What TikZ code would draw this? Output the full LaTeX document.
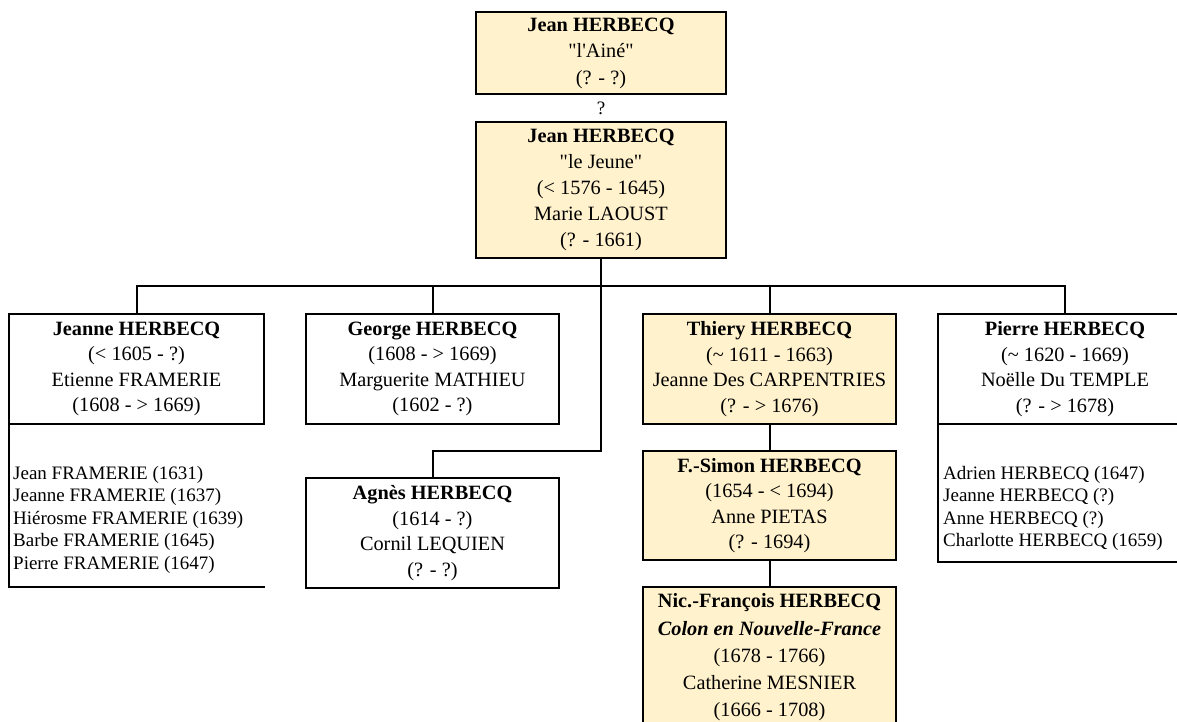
\documentclass[tikz,border=0pt]{standalone}
\usepackage{fontspec}
\setmainfont{Liberation Serif}
\definecolor{boxfill}{HTML}{FFF2CC}
\begin{document}
\begin{tikzpicture}[x=1pt,y=-1pt,
  box/.style={draw=black, line width=2pt, inner sep=0pt, outer sep=0pt, align=center,
    font=\fontsize{20.3}{25.5}\selectfont},
  anc/.style={box, fill=boxfill},
  wire/.style={line width=2pt, draw=black},
  listtext/.style={inner sep=0pt, align=left, anchor=north west,
    font=\fontsize{19}{22.5}\selectfont}]
\useasboundingbox (0,0) rectangle (1177,722);
\begin{scope}
\clip (0,0) rectangle (1177,722);
% ancestors
\node[anc, minimum width=250pt, minimum height=82pt, font=\fontsize{20.3}{26.5}\selectfont] (top) at (601,53)
  {\textbf{Jean HERBECQ}\\\textquotedbl l\textquotesingle Ainé\textquotedbl\\(? - ?)};
\node[inner sep=0pt, font=\fontsize{19}{22}\selectfont] (q) at (601,108) {?};
\node[anc, minimum width=250pt, minimum height=136pt, font=\fontsize{20.3}{26}\selectfont] (b2) at (601,190)
  {\textbf{Jean HERBECQ}\\\textquotedbl le Jeune\textquotedbl\\(< 1576 - 1645)\\Marie LAOUST\\(? - 1661)};
% children
\node[box, minimum width=255pt, minimum height=110pt] (jeanne) at (136.5,369)
  {\textbf{Jeanne HERBECQ}\\(< 1605 - ?)\\Etienne FRAMERIE\\(1608 - > 1669)};
\node[box, minimum width=253pt, minimum height=110pt] (george) at (432.5,369)
  {\textbf{George HERBECQ}\\(1608 - > 1669)\\Marguerite MATHIEU\\(1602 - ?)};
\node[anc, minimum width=253pt, minimum height=110pt] (thiery) at (769.5,369)
  {\textbf{Thiery HERBECQ}\\(\textasciitilde{} 1611 - 1663)\\Jeanne Des CARPENTRIES\\(? - > 1676)};
\node[box, minimum width=254pt, minimum height=110pt] (pierre) at (1065,369)
  {\textbf{Pierre HERBECQ}\\(\textasciitilde{} 1620 - 1669)\\Noëlle Du TEMPLE\\(? - > 1678)};
\node[box, minimum width=253pt, minimum height=110pt] (agnes) at (432.5,533)
  {\textbf{Agnès HERBECQ}\\(1614 - ?)\\Cornil LEQUIEN\\(? - ?)};
\node[anc, minimum width=253pt, minimum height=109pt] (simon) at (769.5,505.5)
  {\textbf{F.-Simon HERBECQ}\\(1654 - < 1694)\\Anne PIETAS\\(? - 1694)};
\node[anc, minimum width=253pt, minimum height=141pt, font=\fontsize{20.3}{27.3}\selectfont] (nic) at (769.5,657.5)
  {\textbf{Nic.-François HERBECQ}\\\textbf{\textit{Colon en Nouvelle-France}}\\(1678 - 1766)\\Catherine MESNIER\\(1666 - 1708)};
% lists of children
\node[listtext] (jlist) at (13,466)
  {Jean FRAMERIE (1631)\\Jeanne FRAMERIE (1637)\\Hiérosme FRAMERIE (1639)\\Barbe FRAMERIE (1645)\\Pierre FRAMERIE (1647)};
\node[listtext] (plist) at (943,466)
  {Adrien HERBECQ (1647)\\Jeanne HERBECQ (?)\\Anne HERBECQ (?)\\Charlotte HERBECQ (1659)};
\coordinate (jlistend) at (265,587);
\coordinate (plistend) at (1180,562);
\draw[wire] (jeanne.south west) |- (jlistend);
\draw[wire] (pierre.south west) |- (plistend);
% connectors
\coordinate (hub) at (601,286);
\coordinate (agbend) at (601,451);
\draw[wire] (b2.south) -- (hub);
\draw[wire] (hub) -| (jeanne.north);
\draw[wire] (hub) -| (george.north);
\draw[wire] (hub) -| (thiery.north);
\draw[wire] (hub) -| (pierre.north);
\draw[wire] (hub) -- (agbend) -| (agnes.north);
\draw[wire] (thiery.south) -- (simon.north);
\draw[wire] (simon.south) -- (nic.north);
\end{scope}
\end{tikzpicture}
\end{document}
